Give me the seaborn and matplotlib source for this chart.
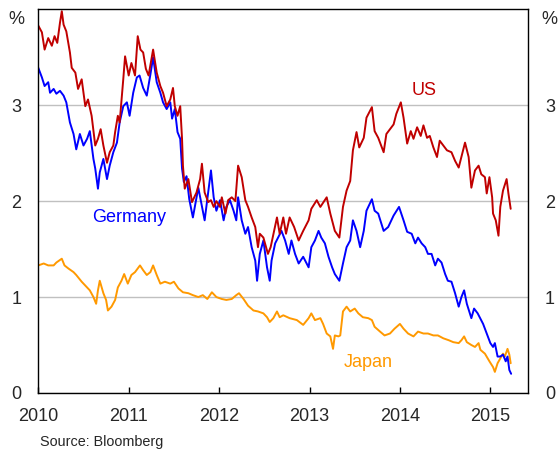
import numpy as np
import pandas as pd
import seaborn as sns
import matplotlib.pyplot as plt

# 10-year government bond yields, % (decimal years)
us_t = [2010.00, 2010.04, 2010.07, 2010.11, 2010.15, 2010.18, 2010.21, 2010.24, 2010.26, 2010.28,
        2010.31, 2010.35, 2010.37, 2010.41, 2010.44, 2010.48, 2010.52, 2010.55, 2010.59, 2010.63,
        2010.66, 2010.69, 2010.72, 2010.76, 2010.79, 2010.83, 2010.85, 2010.88, 2010.90, 2010.94,
        2010.96, 2011.00, 2011.03, 2011.07, 2011.10, 2011.13, 2011.16, 2011.19, 2011.22, 2011.27,
        2011.31, 2011.35, 2011.38, 2011.42, 2011.46, 2011.49, 2011.51, 2011.54, 2011.57, 2011.59,
        2011.60, 2011.62, 2011.66, 2011.70, 2011.75, 2011.79, 2011.81, 2011.84, 2011.88, 2011.91,
        2011.94, 2011.97, 2012.01, 2012.03, 2012.07, 2012.10, 2012.14, 2012.18, 2012.21, 2012.25,
        2012.29, 2012.32, 2012.36, 2012.40, 2012.43, 2012.45, 2012.49, 2012.54, 2012.57, 2012.64,
        2012.67, 2012.71, 2012.74, 2012.78, 2012.83, 2012.88, 2012.93, 2012.99, 2013.02, 2013.08,
        2013.12, 2013.19, 2013.23, 2013.28, 2013.33, 2013.37, 2013.41, 2013.45, 2013.48, 2013.52,
        2013.55, 2013.60, 2013.63, 2013.69, 2013.72, 2013.76, 2013.82, 2013.85, 2013.93, 2013.96,
        2014.01, 2014.04, 2014.08, 2014.12, 2014.15, 2014.19, 2014.23, 2014.26, 2014.30, 2014.33,
        2014.37, 2014.41, 2014.44, 2014.52, 2014.57, 2014.61, 2014.65, 2014.68, 2014.72, 2014.76,
        2014.79, 2014.83, 2014.87, 2014.90, 2014.94, 2014.96, 2014.99, 2015.02, 2015.03, 2015.06,
        2015.09, 2015.11, 2015.14, 2015.18, 2015.20, 2015.225]
us_v = [3.83, 3.76, 3.58, 3.70, 3.62, 3.72, 3.65, 3.86, 3.98, 3.84,
        3.77, 3.55, 3.39, 3.34, 3.17, 3.27, 2.99, 3.06, 2.89, 2.58,
        2.65, 2.75, 2.58, 2.40, 2.51, 2.58, 2.72, 2.89, 2.82, 3.27,
        3.51, 3.31, 3.44, 3.31, 3.72, 3.58, 3.55, 3.38, 3.31, 3.58,
        3.34, 3.20, 3.13, 2.99, 3.06, 3.18, 2.99, 2.89, 2.99, 2.65,
        2.37, 2.13, 2.23, 1.99, 2.09, 2.23, 2.39, 2.09, 1.99, 2.01,
        1.94, 2.00, 1.94, 2.04, 1.87, 2.01, 2.04, 2.00, 2.37, 2.25,
        2.01, 1.94, 1.83, 1.73, 1.52, 1.66, 1.62, 1.45, 1.52, 1.83,
        1.66, 1.83, 1.66, 1.83, 1.73, 1.59, 1.69, 1.80, 1.92, 2.01,
        1.94, 2.04, 1.87, 1.69, 1.62, 1.94, 2.11, 2.21, 2.53, 2.72,
        2.56, 2.66, 2.87, 2.98, 2.73, 2.66, 2.51, 2.70, 2.80, 2.91,
        3.03, 2.87, 2.60, 2.73, 2.65, 2.77, 2.68, 2.79, 2.66, 2.68,
        2.56, 2.46, 2.63, 2.53, 2.51, 2.42, 2.35, 2.46, 2.61, 2.46,
        2.14, 2.32, 2.37, 2.28, 2.25, 2.08, 2.25, 2.04, 1.87, 1.80,
        1.64, 1.94, 2.11, 2.23, 2.08, 1.92]

de_t = [2010.00, 2010.04, 2010.07, 2010.11, 2010.13, 2010.17, 2010.20, 2010.24, 2010.28, 2010.31,
        2010.35, 2010.39, 2010.42, 2010.46, 2010.50, 2010.54, 2010.57, 2010.61, 2010.63, 2010.66,
        2010.68, 2010.72, 2010.76, 2010.79, 2010.83, 2010.87, 2010.90, 2010.94, 2010.98, 2011.01,
        2011.05, 2011.09, 2011.12, 2011.16, 2011.20, 2011.24, 2011.27, 2011.31, 2011.35, 2011.38,
        2011.42, 2011.46, 2011.48, 2011.51, 2011.54, 2011.57, 2011.59, 2011.61, 2011.64, 2011.67,
        2011.71, 2011.77, 2011.84, 2011.91, 2011.94, 2011.97, 2012.01, 2012.05, 2012.08, 2012.12,
        2012.16, 2012.19, 2012.21, 2012.25, 2012.29, 2012.32, 2012.36, 2012.40, 2012.42, 2012.45,
        2012.49, 2012.53, 2012.56, 2012.58, 2012.62, 2012.69, 2012.73, 2012.77, 2012.80, 2012.84,
        2012.88, 2012.93, 2012.99, 2013.02, 2013.06, 2013.10, 2013.13, 2013.17, 2013.21, 2013.25,
        2013.28, 2013.33, 2013.37, 2013.41, 2013.45, 2013.48, 2013.52, 2013.56, 2013.60, 2013.63,
        2013.69, 2013.72, 2013.76, 2013.82, 2013.87, 2013.93, 2013.99, 2014.04, 2014.08, 2014.13,
        2014.17, 2014.20, 2014.24, 2014.28, 2014.31, 2014.35, 2014.39, 2014.42, 2014.46, 2014.50,
        2014.53, 2014.57, 2014.61, 2014.65, 2014.68, 2014.71, 2014.74, 2014.79, 2014.82, 2014.86,
        2014.92, 2014.96, 2015.00, 2015.03, 2015.05, 2015.08, 2015.11, 2015.14, 2015.17, 2015.19,
        2015.21, 2015.23]
de_v = [3.39, 3.29, 3.20, 3.24, 3.13, 3.17, 3.12, 3.15, 3.10, 3.03,
        2.82, 2.70, 2.54, 2.70, 2.58, 2.65, 2.73, 2.44, 2.34, 2.13,
        2.30, 2.44, 2.23, 2.37, 2.51, 2.61, 2.82, 2.99, 3.03, 2.89,
        3.13, 3.29, 3.31, 3.18, 3.10, 3.32, 3.50, 3.24, 3.13, 3.03,
        2.96, 3.03, 2.86, 2.96, 2.72, 2.65, 2.34, 2.20, 2.26, 2.02,
        1.83, 2.14, 1.80, 2.32, 2.04, 1.90, 2.01, 1.80, 1.94, 2.01,
        1.90, 1.80, 2.04, 1.80, 1.66, 1.73, 1.52, 1.38, 1.17, 1.45,
        1.59, 1.31, 1.17, 1.38, 1.56, 1.69, 1.59, 1.45, 1.59, 1.45,
        1.35, 1.42, 1.31, 1.52, 1.59, 1.69, 1.62, 1.56, 1.42, 1.31,
        1.24, 1.17, 1.35, 1.52, 1.59, 1.80, 1.69, 1.52, 1.69, 1.90,
        2.02, 1.90, 1.87, 1.69, 1.73, 1.85, 1.94, 1.80, 1.68, 1.66,
        1.56, 1.62, 1.56, 1.52, 1.45, 1.45, 1.33, 1.40, 1.36, 1.24,
        1.17, 1.16, 1.04, 0.90, 1.00, 1.07, 0.93, 0.78, 0.88, 0.83,
        0.72, 0.62, 0.52, 0.48, 0.52, 0.38, 0.38, 0.40, 0.33, 0.38,
        0.24, 0.20]

jp_t = [2010.00, 2010.06, 2010.11, 2010.17, 2010.20, 2010.26, 2010.29, 2010.33, 2010.39, 2010.42,
        2010.48, 2010.52, 2010.57, 2010.61, 2010.64, 2010.66, 2010.68, 2010.72, 2010.75, 2010.77,
        2010.81, 2010.85, 2010.88, 2010.92, 2010.95, 2010.99, 2011.03, 2011.07, 2011.125, 2011.16,
        2011.20, 2011.24, 2011.27, 2011.31, 2011.35, 2011.40, 2011.46, 2011.50, 2011.55, 2011.60,
        2011.66, 2011.71, 2011.77, 2011.82, 2011.87, 2011.92, 2011.97, 2012.03, 2012.08, 2012.14,
        2012.19, 2012.22, 2012.27, 2012.32, 2012.38, 2012.43, 2012.49, 2012.53, 2012.56, 2012.60,
        2012.64, 2012.67, 2012.71, 2012.78, 2012.86, 2012.93, 2012.99, 2013.02, 2013.06, 2013.12,
        2013.15, 2013.19, 2013.23, 2013.26, 2013.28, 2013.32, 2013.34, 2013.37, 2013.41, 2013.45,
        2013.50, 2013.54, 2013.59, 2013.65, 2013.69, 2013.72, 2013.78, 2013.83, 2013.89, 2013.94,
        2014.00, 2014.04, 2014.09, 2014.15, 2014.20, 2014.26, 2014.31, 2014.37, 2014.42, 2014.48,
        2014.54, 2014.59, 2014.65, 2014.68, 2014.71, 2014.74, 2014.79, 2014.83, 2014.87, 2014.89,
        2014.94, 2014.99, 2015.03, 2015.05, 2015.08, 2015.11, 2015.14, 2015.16, 2015.19, 2015.21,
        2015.225]
jp_v = [1.33, 1.35, 1.33, 1.33, 1.36, 1.40, 1.33, 1.30, 1.26, 1.23,
        1.16, 1.12, 1.07, 1.00, 0.93, 1.07, 1.17, 1.04, 0.97, 0.86,
        0.90, 0.97, 1.10, 1.17, 1.24, 1.14, 1.23, 1.26, 1.33, 1.28,
        1.23, 1.26, 1.33, 1.23, 1.14, 1.16, 1.14, 1.16, 1.09, 1.05,
        1.04, 1.02, 1.00, 1.02, 0.98, 1.05, 1.00, 0.98, 0.97, 0.98,
        1.02, 1.04, 0.98, 0.91, 0.86, 0.85, 0.83, 0.79, 0.74, 0.78,
        0.85, 0.79, 0.81, 0.78, 0.76, 0.71, 0.78, 0.83, 0.76, 0.78,
        0.72, 0.62, 0.59, 0.46, 0.60, 0.59, 0.60, 0.85, 0.90, 0.85,
        0.88, 0.83, 0.79, 0.78, 0.76, 0.69, 0.64, 0.60, 0.62, 0.67,
        0.72, 0.67, 0.62, 0.59, 0.64, 0.62, 0.62, 0.60, 0.60, 0.57,
        0.55, 0.53, 0.52, 0.55, 0.59, 0.53, 0.50, 0.48, 0.52, 0.45,
        0.41, 0.33, 0.27, 0.22, 0.31, 0.36, 0.41, 0.38, 0.46, 0.40,
        0.31]

year_ticks = [2010, 2011, 2012, 2013, 2014, 2015]
pct_ticks = [0, 1, 2, 3]
colors = {"US": "#C00000", "Germany": "#0000FF", "Japan": "#FF9900"}

df = pd.concat([
    pd.DataFrame({"year": us_t, "yield": us_v, "country": "US"}),
    pd.DataFrame({"year": de_t, "yield": de_v, "country": "Germany"}),
    pd.DataFrame({"year": jp_t, "yield": jp_v, "country": "Japan"}),
])

sns.set_style("white")
plt.rcParams["font.family"] = ["Liberation Sans", "DejaVu Sans"]

fig = plt.figure(figsize=(5.58, 4.54), dpi=100)
ax = fig.add_axes([0.0686, 0.1344, 0.8782, 0.8451])

sns.lineplot(data=df, x="year", y="yield", hue="country", palette=colors,
             hue_order=["Japan", "Germany", "US"], linewidth=1.4, legend=False,
             estimator=None, sort=False, ax=ax)

ax.set_xlim(2010, 2015.42)
ax.set_ylim(0, 4)
ax.set_xticks(year_ticks)
ax.set_xticklabels([str(y) for y in year_ticks])
ax.set_yticks(pct_ticks)
ax.set_xlabel("")
ax.set_ylabel("")
ax.grid(axis="y", color="#C0C0C0", linewidth=1.0)
ax.set_axisbelow(True)

ax.tick_params(axis="x", direction="in", length=4.5, width=1, color="black",
               labelsize=13, pad=10.5, top=False, bottom=True)
ax.tick_params(axis="y", length=0, labelsize=13, pad=12,
               left=False, right=False, labelleft=True, labelright=True)

for s in ax.spines.values():
    s.set_visible(True)
    s.set_color("black")
    s.set_linewidth(1.0)

ax.text(2014.27, 3.15, "US", color=colors["US"], fontsize=13, ha="center", va="center")
ax.text(2011.01, 1.83, "Germany", color=colors["Germany"], fontsize=13, ha="center", va="center")
ax.text(2013.65, 0.32, "Japan", color=colors["Japan"], fontsize=13, ha="center", va="center")

fig.text(0.029, 0.957, "%", fontsize=13, ha="center", va="center")
fig.text(0.984, 0.957, "%", fontsize=13, ha="center", va="center")
fig.text(0.072, 0.027, "Source: Bloomberg", fontsize=10.4, ha="left", va="center")

fig.savefig("out.png", dpi=100)
